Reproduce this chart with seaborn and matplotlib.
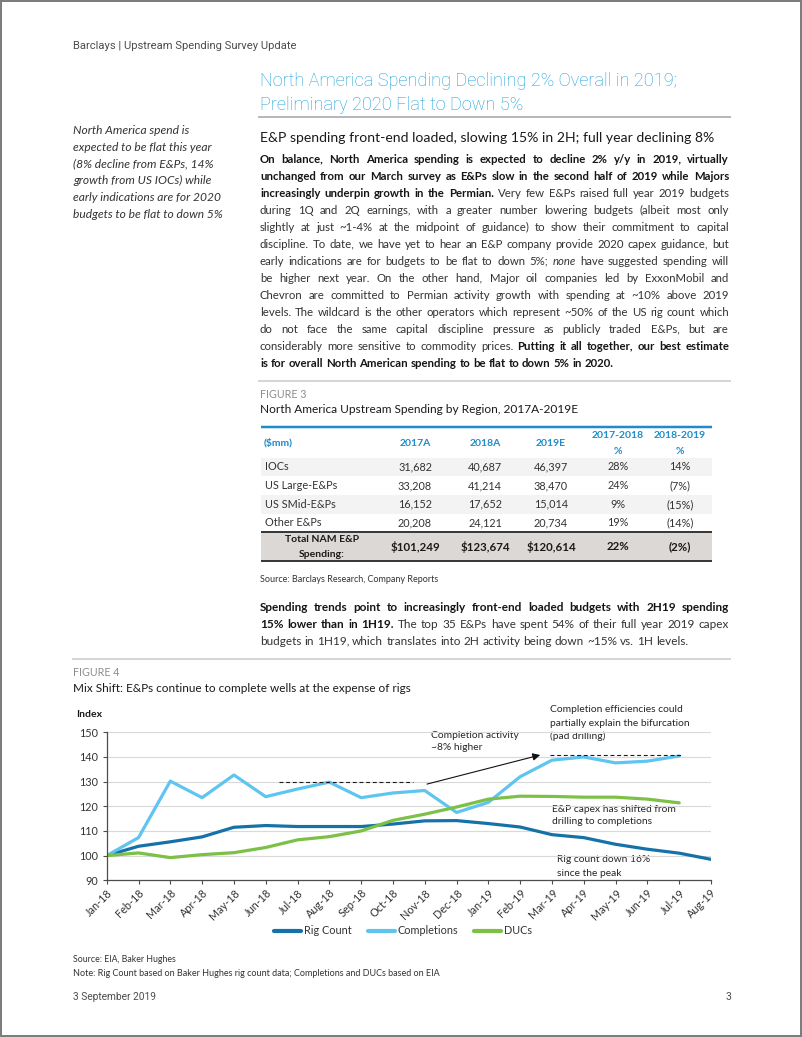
import math
import numpy as np
import pandas as pd
import matplotlib
matplotlib.use("Agg")
import matplotlib.pyplot as plt
from matplotlib import font_manager
from matplotlib.font_manager import FontProperties
from matplotlib.lines import Line2D
from matplotlib.patches import Rectangle
import seaborn as sns

# ---------------- data ----------------
months = ["Jan-18", "Feb-18", "Mar-18", "Apr-18", "May-18", "Jun-18", "Jul-18",
          "Aug-18", "Sep-18", "Oct-18", "Nov-18", "Dec-18", "Jan-19", "Feb-19",
          "Mar-19", "Apr-19", "May-19", "Jun-19", "Jul-19", "Aug-19"]
rig_count = [100, 103.8, 105.6, 107.6, 111.5, 112.2, 111.8, 111.8, 111.8, 112.8,
             114.1, 114.2, 113.0, 111.6, 108.5, 107.3, 104.6, 102.6, 101.0, 98.5]
completions = [100, 107.3, 130.2, 123.5, 132.7, 123.9, 127.0, 129.8, 123.5, 125.4,
               126.4, 117.5, 121.6, 132.0, 138.7, 140.0, 137.6, 138.3, 140.4]
ducs = [100, 101.1, 99.2, 100.4, 101.2, 103.3, 106.4, 107.7, 110.0, 114.3,
        116.8, 119.7, 122.9, 124.1, 124.0, 123.7, 123.7, 122.9, 121.4]
series_names = ["Rig Count", "Completions", "DUCs"]
series_colors = ["#1572a8", "#5ec5f0", "#7cc047"]
y_ticks = [90, 100, 110, 120, 130, 140, 150]

table_header = ["($mm)", "2017A", "2018A", "2019E", "2017-2018\n%", "2018-2019\n%"]
table_rows = ["IOCs", "US Large-E&Ps", "US SMid-E&Ps", "Other E&Ps"]
spend_2017 = [31682, 33208, 16152, 20208]
spend_2018 = [40687, 41214, 17652, 24121]
spend_2019 = [46397, 38470, 15014, 20734]
chg_17_18 = ["28%", "24%", "9%", "19%"]
chg_18_19 = ["14%", "(7%)", "(15%)", "(14%)"]
total_label = "Total NAM E&P\nSpending:"
total_values = ["$101,249", "$123,674", "$120,614", "22%", "(2%)"]

# ---------------- fonts ----------------
avail = {f.name for f in font_manager.fontManager.ttflist}
def pick(*names):
    for n in names:
        if n in avail:
            return n
    return "DejaVu Sans"
BODY = pick("Lato", "Open Sans", "DejaVu Sans")
NARROW = pick("Liberation Sans Narrow", "Roboto", "Lato")

sns.set_theme(style="white")
plt.rcParams["font.family"] = [BODY, "DejaVu Sans"]

W, H = 802, 1037
fig = plt.figure(figsize=(W / 100, H / 100), dpi=100)
page = fig.add_axes([0, 0, 1, 1])
page.set_xlim(0, W)
page.set_ylim(H, 0)
page.axis("off")
renderer = fig.canvas.get_renderer()

BLUE_T = "#1a9fdb"
GRAY_T = "#8c8c8c"
DARK = "#2b2b2b"

def measure(t):
    return t.get_window_extent(renderer).width

def txt(x, y, s, size, width=None, family=BODY, **kw):
    kw.setdefault("va", "center")
    kw.setdefault("ha", "left")
    kw.setdefault("color", DARK)
    t = page.text(x, y, s, fontsize=size, family=family, **kw)
    if width is not None:
        t.set_fontsize(size * width / measure(t))
    return t

def hline(x0, x1, y, color, lw_px):
    page.plot([x0, x1], [y, y], color=color, lw=lw_px * 0.72, solid_capstyle="butt")

STY = {
    "r": dict(weight="normal", style="normal", color="#333333"),
    "b": dict(weight="bold", style="normal", color="#151515"),
    "i": dict(weight="normal", style="italic", color="#333333"),
}

def draw_para(lines, x0, x1, y0, dy, size):
    target = x1 - x0
    toks = [[(w, st) for s, st in segs for w in s.split()] for segs in lines]

    def props(st, sz):
        return FontProperties(family=BODY, weight=STY[st]["weight"],
                              style=STY[st]["style"], size=sz)

    def widths(sz):
        out = []
        for line in toks:
            ws = []
            for w, st in line:
                t = page.text(0, 0, w, fontproperties=props(st, sz))
                _, hh, dd = renderer.get_text_width_height_descent(w, props(st, sz), ismath=False)
                ws.append((measure(t), hh, dd))
                t.remove()
            out.append(ws)
        a = page.text(0, 0, "a a", fontproperties=props("r", sz))
        b = page.text(0, 0, "aa", fontproperties=props("r", sz))
        sp = measure(a) - measure(b)
        a.remove(); b.remove()
        return out, sp

    ws, sp = widths(size)
    ratio = max(sum(w[0] for w in l) + sp * (len(l) - 1) for l in ws[:-1]) / target
    if ratio > 0.97:
        size = size * 0.97 / ratio
        ws, sp = widths(size)
    for i, (line, lw) in enumerate(zip(toks, ws)):
        total = sum(w[0] for w in lw)
        if i < len(toks) - 1 and len(line) > 1:
            gap = (target - total) / (len(line) - 1)
        else:
            gap = sp
        x = x0
        base = round(y0 + i * dy + size * 1.389 * 0.33)
        for (w, st), (wd, hh, dd) in zip(line, lw):
            # snap each word so that its glyph baseline lands on the same pixel row
            y = base + math.floor(hh) - math.floor(hh - dd) - dd
            page.text(x, y, w, fontproperties=props(st, size), color=STY[st]["color"],
                      va="baseline", ha="left")
            x += wd + gap

# ---------------- page frame ----------------
page.add_patch(Rectangle((1, 1), W - 2.5, H - 2.5, fill=False, ec="#7a7a7a", lw=1.4))

txt(73, 46, "Barclays | Upstream Spending Survey Update", 9, width=227, family=NARROW, color="#4d4d4d")
txt(260, 81, "North America Spending Declining 2% Overall in 2019;", 14, width=419, family=NARROW,
    color=BLUE_T, weight="light")
txt(260, 105, "Preliminary 2020 Flat to Down 5%", 14, width=263, family=NARROW,
    color=BLUE_T, weight="light")
hline(258, 731, 117, "#b8b8b8", 2)

sidebar = ["North America spend is", "expected to be flat this year",
           "(8% decline from E&Ps, 14%", "growth from US IOCs) while",
           "early indications are for 2020", "budgets to be flat to down 5%"]
probe = txt(0, 0, sidebar[-1], 9, width=149, style="italic")
sb_size = probe.get_fontsize()
probe.remove()
for i, s in enumerate(sidebar):
    txt(73, 130.5 + i * 16.75, s, sb_size, style="italic", color="#333333")

txt(260, 138, "E&P spending front-end loaded, slowing 15% in 2H; full year declining 8%", 11,
    width=453, color="#1a1a1a")

para1 = [
    [("On balance, North America spending is expected to decline 2% y/y in 2019, virtually", "b")],
    [("unchanged from our March survey as E&Ps slow in the second half of 2019 while Majors", "b")],
    [("increasingly underpin growth in the Permian.", "b"), ("Very few E&Ps raised full year 2019 budgets", "r")],
    [("during 1Q and 2Q earnings, with a greater number lowering budgets (albeit most only", "r")],
    [("slightly at just ~1-4% at the midpoint of guidance) to show their commitment to capital", "r")],
    [("discipline. To date, we have yet to hear an E&P company provide 2020 capex guidance, but", "r")],
    [("early indications are for budgets to be flat to down 5%;", "r"), ("none", "i"), ("have suggested spending will", "r")],
    [("be higher next year. On the other hand, Major oil companies led by ExxonMobil and", "r")],
    [("Chevron are committed to Permian activity growth with spending at ~10% above 2019", "r")],
    [("levels. The wildcard is the other operators which represent ~50% of the US rig count which", "r")],
    [("do not face the same capital discipline pressure as publicly traded E&Ps, but are", "r")],
    [("considerably more sensitive to commodity prices.", "r"), ("Putting it all together, our best estimate", "b")],
    [("is for overall North American spending to be flat to down 5% in 2020.", "b")],
]
draw_para(para1, 260, 729, 159.5, 17.0, 9)
hline(258, 731, 381, "#c9c9c9", 1.5)

txt(260, 394, "FIGURE 3", 8, width=46, color=GRAY_T)
txt(260, 409.5, "North America Upstream Spending by Region, 2017A-2019E", 9, width=317, color="#1a1a1a")

# ---------------- table ----------------
TB = "#1e8cc8"
hline(261, 712, 427, TB, 2.5)
col_x = [264, 415, 485, 551, 618, 680]
txt(col_x[0], 443, table_header[0], 7.5, color=TB, weight="bold")
for cx, h in zip(col_x[1:], table_header[1:]):
    parts = h.split("\n")
    if len(parts) == 1:
        txt(cx, 443, parts[0], 7.5, color=TB, weight="bold", ha="center")
    else:
        txt(cx, 436, parts[0], 7.5, color=TB, weight="bold", ha="center")
        txt(cx, 451.5, parts[1], 7.5, color=TB, weight="bold", ha="center")
row_y = [467, 485.7, 504.3, 523]
for i, name in enumerate(table_rows):
    if i % 2 == 0:
        page.add_patch(Rectangle((261, row_y[i] - 9.3), 451, 18.6, fc="#f3f3f3", ec="none"))
    txt(265, row_y[i], name, 7.8, color="#333333")
    vals = [f"{spend_2017[i]:,}", f"{spend_2018[i]:,}", f"{spend_2019[i]:,}", chg_17_18[i], chg_18_19[i]]
    for cx, v in zip(col_x[1:], vals):
        txt(cx, row_y[i], v, 7.8, color="#333333", ha="center")
page.add_patch(Rectangle((261, 532), 451, 29, fc="#dcd8d5", ec="none"))
hline(261, 712, 532, "#3a3a3a", 2)
hline(261, 712, 561, "#3a3a3a", 2)
tl = total_label.split("\n")
txt(322, 539.5, tl[0], 7.5, color="#1a1a1a", weight="bold", ha="center")
txt(322, 554.5, tl[1], 7.5, color="#1a1a1a", weight="bold", ha="center")
for cx, v in zip(col_x[1:], total_values):
    txt(cx, 547, v, 8.3, color="#1a1a1a", weight="bold", ha="center")

txt(260, 579, "Source: Barclays Research, Company Reports", 6.5, width=177, color="#333333")

para2 = [
    [("Spending trends point to increasingly front-end loaded budgets with 2H19 spending", "b")],
    [("15% lower than in 1H19.", "b"), ("The top 35 E&Ps have spent 54% of their full year 2019 capex", "r")],
    [("budgets in 1H19, which translates into 2H activity being down ~15% vs. 1H levels.", "r")],
]
draw_para(para2, 260, 729, 607.5, 17.0, 9)
hline(72, 731, 659, "#c9c9c9", 1.5)

txt(73, 672, "FIGURE 4", 8, width=46, color=GRAY_T)
txt(73, 688.5, "Mix Shift: E&Ps continue to complete wells at the expense of rigs", 9, width=338, color="#1a1a1a")

# ---------------- chart ----------------
ax = fig.add_axes([106.7 / W, 1 - 880.3 / H, (711 - 106.7) / W, (880.3 - 732.3) / H])
ax.patch.set_alpha(0)
frames = []
for name, vals in zip(series_names, [rig_count, completions, ducs]):
    frames.append(pd.DataFrame({"month": np.arange(len(vals)), "value": vals, "series": name}))
df = pd.concat(frames, ignore_index=True)
sns.lineplot(data=df, x="month", y="value", hue="series", hue_order=series_names,
             palette=series_colors, linewidth=2.3, legend=False, ax=ax)
ax.set_xlim(0, len(months) - 1)
ax.set_ylim(y_ticks[0], y_ticks[-1])
ax.set_yticks(y_ticks)
ax.set_yticklabels([str(v) for v in y_ticks], fontsize=7.8, color="#333333")
ax.set_xticks(np.arange(len(months)))
ax.set_xticklabels(months, fontsize=7.8, color="#333333", rotation=45, ha="right",
                   rotation_mode="anchor")
ax.set_xlabel("")
ax.set_ylabel("")
ax.yaxis.grid(True, color="#d9d9d9", lw=0.8)
ax.xaxis.grid(False)
ax.set_axisbelow(True)
for s in ["top", "right"]:
    ax.spines[s].set_visible(False)
for s in ["left", "bottom"]:
    ax.spines[s].set_color("#4d4d4d")
    ax.spines[s].set_linewidth(0.9)
ax.tick_params(axis="both", which="major", length=3, width=0.8, color="#4d4d4d",
               direction="out", left=True, bottom=True)
ax.tick_params(axis="x", pad=2)
ax.tick_params(axis="y", pad=3)

# annotations
ax.plot([5.42, 9.63], [129.8, 129.8], color="#1a1a1a", lw=0.8, ls=(0, (3.5, 2.5)))
ax.plot([13.94, 18.12], [141.0, 141.0], color="#1a1a1a", lw=0.8, ls=(0, (3.5, 2.5)))
ax.annotate("", xy=(13.63, 140.8), xytext=(10.07, 129.0),
            arrowprops=dict(arrowstyle="-|>", color="#111111", lw=0.8,
                            mutation_scale=11, shrinkA=0, shrinkB=0))

probe = txt(0, 0, "partially explain the bifurcation", 8, width=142)
an_size = probe.get_fontsize()
probe.remove()
notes = [
    (431, 735.0, ["Completion activity", "~8% higher"]),
    (550, 710.0, ["Completion efficiencies could", "partially explain the bifurcation", "(pad drilling)"]),
    (552, 809.0, ["E&P capex has shifted from", "drilling to completions"]),
    (557, 860.0, ["Rig count down 16%", "since the peak"]),
]
for x, y, ls in notes:
    for j, s in enumerate(ls):
        txt(x, y + j * 13.0, s, an_size, color="#262626")

txt(76, 714.3, "Index", 7.5, width=26, weight="bold", color="#1a1a1a")

handles = [Line2D([0], [0], color=c, lw=3) for c in series_colors]
page.legend(handles, series_names, loc="center", bbox_to_anchor=(403 / W, 1 - 931 / H),
            bbox_transform=fig.transFigure, ncol=3, frameon=False, handlelength=2.5,
            handletextpad=0.25, columnspacing=1.5, fontsize=7.8,
            labelcolor="#333333")

txt(73, 960, "Source: EIA, Baker Hughes", 6.5, width=103, color="#333333")
txt(73, 973, "Note: Rig Count based on Baker Hughes rig count data; Completions and DUCs based on EIA", 6.5,
    width=364, color="#333333")

txt(73, 996.5, "3 September 2019", 7.5, width=83, family=NARROW, color="#4d4d4d")
txt(731, 996.5, "3", 7.5, family=NARROW, color="#4d4d4d", ha="right")

fig.savefig("out.png", dpi=100)
